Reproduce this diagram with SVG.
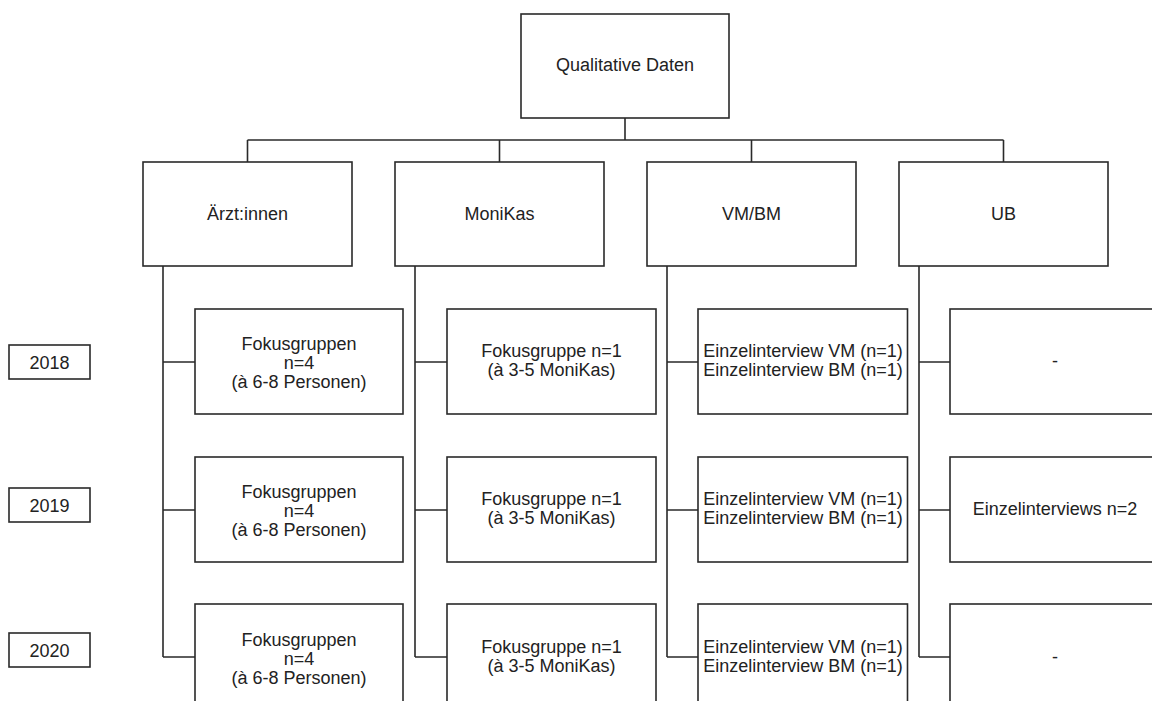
<svg xmlns="http://www.w3.org/2000/svg" width="1152" height="701" viewBox="0 0 1152 701">
<style>
.box{fill:#fff;stroke:#2a2a2a;stroke-width:1.6}
.ln{fill:none;stroke:#2a2a2a;stroke-width:1.6}
text{font-family:"Liberation Sans",Arial,sans-serif;font-size:18px;fill:#222;text-anchor:middle}
</style>
<rect width="1152" height="701" fill="#fff"/>
<g id="connectors" class="ln">
<path d="M625 118V140M247.5 140H1003.5M247.5 140V162M499.5 140V162M751.5 140V162M1003.5 140V162"/>
<path d="M163 266V657M163 362H195M163 510H195M163 657H195"/>
<path d="M415 266V657M415 362H447M415 510H447M415 657H447"/>
<path d="M667 266V657M667 362H698M667 510H698M667 657H698"/>
<path d="M919 266V657M919 362H950M919 510H950M919 657H950"/>
</g>
<g id="root"><rect class="box" x="521" y="14" width="208" height="104"/><text x="625" y="71">Qualitative Daten</text></g>
<g id="aerzte"><rect class="box" x="143" y="162" width="209" height="104"/><text x="247.5" y="219.5">Ärzt:innen</text></g>
<g id="monikas"><rect class="box" x="395" y="162" width="209" height="104"/><text x="499.5" y="219.5">MoniKas</text></g>
<g id="vmbm"><rect class="box" x="647" y="162" width="209" height="104"/><text x="751.5" y="219.5">VM/BM</text></g>
<g id="ub"><rect class="box" x="899" y="162" width="209" height="104"/><text x="1003.5" y="219.5">UB</text></g>
<g id="y2018"><rect class="box" x="9" y="345" width="81" height="34"/><text x="49.5" y="368.5">2018</text></g>
<g id="y2019"><rect class="box" x="9" y="488" width="81" height="34"/><text x="49.5" y="511.5">2019</text></g>
<g id="y2020"><rect class="box" x="9" y="633" width="81" height="34"/><text x="49.5" y="656.5">2020</text></g>
<g id="a2018"><rect class="box" x="195" y="309" width="208" height="105"/><text x="299" y="350">Fokusgruppen</text><text x="299" y="369">n=4</text><text x="299" y="388">(à 6-8 Personen)</text></g>
<g id="a2019"><rect class="box" x="195" y="457" width="208" height="105"/><text x="299" y="498">Fokusgruppen</text><text x="299" y="517">n=4</text><text x="299" y="536">(à 6-8 Personen)</text></g>
<g id="a2020"><rect class="box" x="195" y="604" width="208" height="105"/><text x="299" y="646">Fokusgruppen</text><text x="299" y="665">n=4</text><text x="299" y="684">(à 6-8 Personen)</text></g>
<g id="m2018"><rect class="box" x="447" y="309" width="209" height="105"/><text x="551.5" y="357">Fokusgruppe n=1</text><text x="551.5" y="376">(à 3-5 MoniKas)</text></g>
<g id="m2019"><rect class="box" x="447" y="457" width="209" height="105"/><text x="551.5" y="505">Fokusgruppe n=1</text><text x="551.5" y="524">(à 3-5 MoniKas)</text></g>
<g id="m2020"><rect class="box" x="447" y="604" width="209" height="105"/><text x="551.5" y="653">Fokusgruppe n=1</text><text x="551.5" y="672">(à 3-5 MoniKas)</text></g>
<g id="v2018"><rect class="box" x="698" y="309" width="209.5" height="105"/><text x="803" y="357">Einzelinterview VM (n=1)</text><text x="803" y="376">Einzelinterview BM (n=1)</text></g>
<g id="v2019"><rect class="box" x="698" y="457" width="209.5" height="105"/><text x="803" y="505">Einzelinterview VM (n=1)</text><text x="803" y="524">Einzelinterview BM (n=1)</text></g>
<g id="v2020"><rect class="box" x="698" y="604" width="209.5" height="105"/><text x="803" y="653">Einzelinterview VM (n=1)</text><text x="803" y="672">Einzelinterview BM (n=1)</text></g>
<g id="u2018"><rect class="box" x="950" y="309" width="209" height="105"/><text x="1055" y="367">-</text></g>
<g id="u2019"><rect class="box" x="950" y="457" width="209" height="105"/><text x="1055" y="515">Einzelinterviews n=2</text></g>
<g id="u2020"><rect class="box" x="950" y="604" width="209" height="105"/><text x="1055" y="663">-</text></g>
</svg>
